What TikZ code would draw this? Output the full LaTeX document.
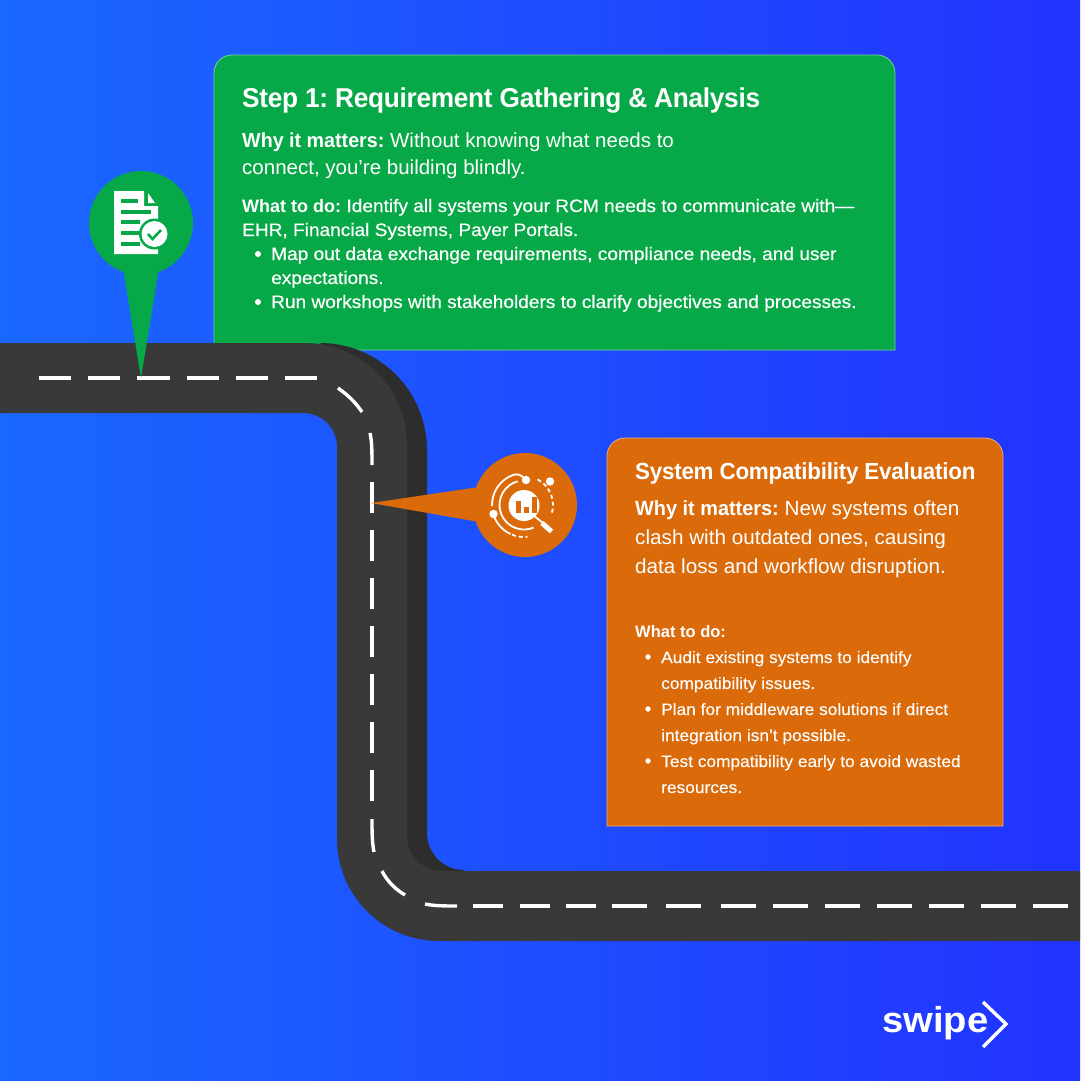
\documentclass[tikz,border=0pt]{standalone}
\usepackage{fontspec}
\setmainfont[FakeStretch=1.01,BoldFeatures={FakeStretch=0.97}]{Liberation Sans}
\newfontfamily\titlefont[FakeStretch=0.96,LetterSpace=-1]{Liberation Sans}
\newfontfamily\midfont[FakeStretch=1.06,FakeBold=0.4,BoldFeatures={FakeStretch=1.0,FakeBold=0}]{Liberation Sans}
\newfontfamily\smallfont[FakeStretch=1.05,FakeBold=0.15,BoldFeatures={FakeStretch=1.0,FakeBold=0}]{Liberation Sans}
\newfontfamily\logofont[FakeStretch=1.06]{Liberation Sans}
\definecolor{bgleft}{HTML}{1A68FF}
\definecolor{bgright}{HTML}{2233FF}
\definecolor{roadlight}{HTML}{393939}
\definecolor{roaddark}{HTML}{2D2D2D}
\definecolor{boxgreen}{HTML}{07A847}
\definecolor{boxorange}{HTML}{DA6A0A}
\tikzset{
  linetext/.style={anchor=base west,inner sep=0pt,text=white},
  titleA/.style={linetext,font=\frenchspacing\titlefont\fontsize{27.3}{30}\selectfont\bfseries},
  titleB/.style={linetext,font=\frenchspacing\titlefont\fontsize{23.3}{26}\selectfont\bfseries},
  bigtextA/.style={linetext,font=\frenchspacing\fontsize{20.3}{24}\selectfont},
  bigtext/.style={linetext,font=\frenchspacing\fontsize{20.5}{24}\selectfont},
  midtext/.style={linetext,font=\frenchspacing\midfont\fontsize{18}{22}\selectfont},
  smalltext/.style={linetext,font=\frenchspacing\smallfont\fontsize{16.5}{20}\selectfont},
  lane/.style={white,line width=3.4pt},
  lanedash/.style={lane,dash pattern=on #1pt off 17pt},
  iconline/.style={white,line width=1.8pt}
}
\begin{document}
\begin{tikzpicture}[x=1pt,y=-1pt]
	\useasboundingbox (0,0) rectangle (1080,1081);
	\shade[left color=bgleft,right color=bgright] (0,0) rectangle (1080,1081);
	% boxes
	\draw[fill=boxgreen,draw=white!45!boxgreen,line width=0.8pt] (214,350) [rounded corners=18pt] -- (214,55) -- (895,55) [sharp corners] -- (895,350) -- cycle;
	\draw[fill=boxorange,draw=white!45!boxorange,line width=0.8pt] (607,826) [rounded corners=18pt] -- (607,438) -- (1003,438) [sharp corners] -- (1003,826) -- cycle;
	% road
	\fill[roaddark] (320,343) arc[start angle=-90,end angle=0,radius=107] -- (427,833) arc[start angle=180,end angle=90,radius=37] -- (464,885) -- (380,885) -- (380,400) -- cycle;
	\fill[roadlight] (0,343) -- (305,343) arc[start angle=-90,end angle=0,radius=102] -- (407,836) arc[start angle=180,end angle=90,radius=35] -- (1080,871) -- (1080,941) -- (439,941) arc[start angle=90,end angle=180,radius=102] -- (337,447) arc[start angle=0,end angle=-90,radius=34] -- (0,413) -- cycle;
	% lane marks
	\draw[lanedash=32.2] (39,378) -- (320,378);
	\draw[lane] (338,388) .. controls (349,396) and (356,403) .. (362,412);
	\draw[lane] (370,433) .. controls (372,442) and (372,452) .. (372,465);
	\draw[lanedash=31] (372,482) -- (372,803);
	\draw[lane] (372,819) .. controls (372,832) and (372,842) .. (374,852);
	\draw[lane] (382,871) .. controls (387,881) and (395,889) .. (405,895);
	\draw[lane] (425,904) .. controls (435,906) and (445,906) .. (457,906);
	\draw[lane,dash pattern=on 30pt off 16.6pt] (473,906) -- (596,906);
	\draw[lane,dash pattern=on 35pt off 19pt] (612,906) -- (702,906);
	\draw[lane,dash pattern=on 35pt off 17pt] (721,906) -- (1068,906);
	% green pin
	\fill[boxgreen] (141,223) circle (52);
	\fill[boxgreen] (123,268) -- (141,378) -- (159,268) -- cycle;
	\fill[white] (114,191) -- (144,191) -- (144,206) -- (158,206) -- (158,254) -- (114,254) -- cycle;
	\fill[white] (148,193) -- (148,203) -- (155,203) -- cycle;
	\foreach \y/\w in {201/138,212/151,222/140,233/140,244/140}
		\fill[boxgreen] (121,\y-2) rectangle (\w,\y+2);
	\fill[boxgreen] (154.5,234) circle (15.5);
	\fill[white] (154.5,234) circle (13);
	\draw[boxgreen,line width=2.6pt] (148,234) -- (152.5,239) -- (161,230);
	% orange pin
	\fill[boxorange] (525,505) circle (52);
	\fill[boxorange] (479,487) -- (371,503) -- (479,522) -- cycle;
	\begin{scope}[shift={(524,505)}]
		\fill[white] (0,0.5) circle (15.5);
		\draw[iconline] (178:32) arc[start angle=178,end angle=250,radius=32] .. controls (-5,-32) and (-2,-29) .. (2,-25);
		\draw[iconline] (255:24.5) arc[start angle=255,end angle=67,radius=24.5];
		\draw[iconline] (160:32) arc[start angle=160,end angle=115,radius=32];
		\draw[iconline,dash pattern=on 4pt off 3pt] (112:32) arc[start angle=112,end angle=84,radius=32];
		\draw[iconline,dash pattern=on 4pt off 3pt] (-62:29) arc[start angle=-62,end angle=20,radius=29];
		\fill[white] (2,-25) circle (4.2);
		\fill[white] (26,-23.5) circle (4.2);
		\fill[white] (-30.5,9) circle (4.2);
		\draw[iconline] (9,10) -- (19,18);
		\draw[white,line width=5pt] (18,18) -- (27.5,26.5);
		\fill[boxorange] (-8,-4) rectangle (-3,8);
		\fill[boxorange] (0,2) rectangle (5,8);
		\fill[boxorange] (8,-8) rectangle (13,8);
	\end{scope}
	% green box text
	\node[titleA] (stepA) at (242,107) {Step 1: Requirement Gathering \& Analysis};
	\node[bigtextA] (whyA) at (242,147) {\textbf{Why it matters:} Without knowing what needs to};
	\node[bigtextA] (whyAb) at (242,174) {connect, you’re building blindly.};
	\node[midtext] (whatA) at (242,212) {\textbf{What to do:} Identify all systems your RCM needs to communicate with—};
	\node[midtext] (whatAb) at (242,236) {EHR, Financial Systems, Payer Portals.};
	\node[midtext] (mapA) at (271,260) {Map out data exchange requirements, compliance needs, and user};
	\node[midtext] (mapAb) at (271,284) {expectations.};
	\node[midtext] (runA) at (271,308) {Run workshops with stakeholders to clarify objectives and processes.};
	\foreach \y in {254,302}
		\fill[white] (258,\y) circle (3);
	% orange box text
	\node[titleB] (stepB) at (635,479) {System Compatibility Evaluation};
	\node[bigtext] (whyB) at (635,515) {\textbf{Why it matters:} New systems often};
	\node[bigtext] (whyBb) at (635,544) {clash with outdated ones, causing};
	\node[bigtext] (whyBc) at (635,573) {data loss and workflow disruption.};
	\node[smalltext] (whatB) at (635,637) {\textbf{What to do:}};
	\node[smalltext] (auditB) at (661,663) {Audit existing systems to identify};
	\node[smalltext] (auditBb) at (661,689) {compatibility issues.};
	\node[smalltext] (planB) at (661,715) {Plan for middleware solutions if direct};
	\node[smalltext] (planBb) at (661,741) {integration isn’t possible.};
	\node[smalltext] (testB) at (661,767) {Test compatibility early to avoid wasted};
	\node[smalltext] (testBb) at (661,793) {resources.};
	\foreach \y in {657,709,761}
		\fill[white] (648,\y) circle (2.7);
	% logo
	\node[linetext,font=\logofont\fontsize{36}{40}\selectfont\bfseries] (logo) at (882,1032) {swipe};
	\draw[white,line width=3.4pt] (983,1002) -- (1006,1024) -- (983,1047);
\end{tikzpicture}
\end{document}
